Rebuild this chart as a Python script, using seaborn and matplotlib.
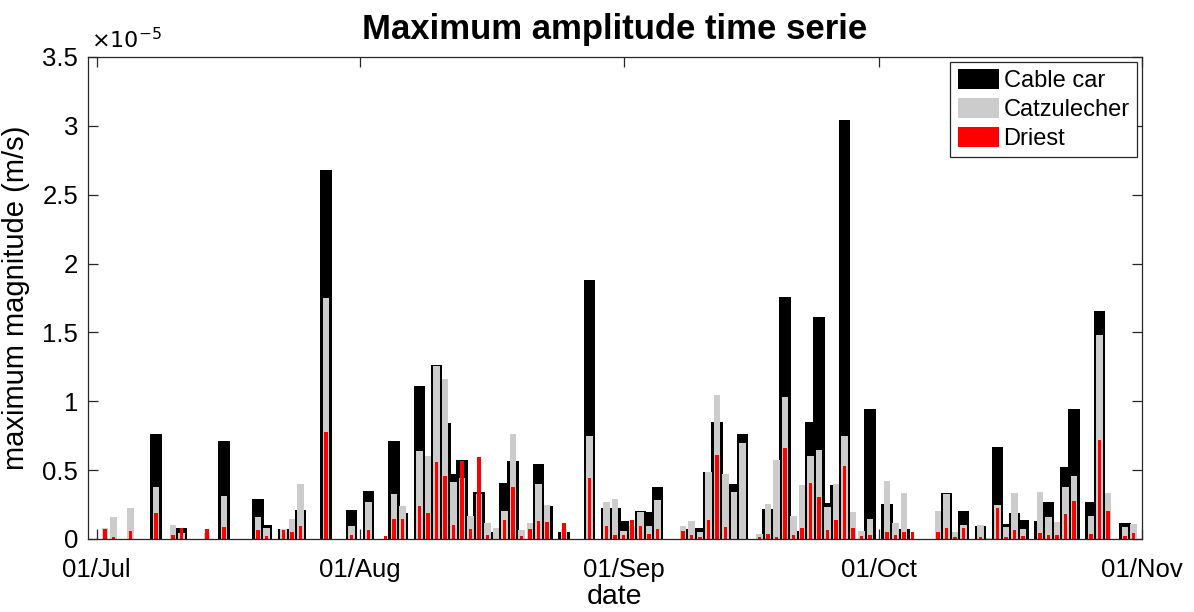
import numpy as np
import pandas as pd
import matplotlib
matplotlib.use("Agg")
import matplotlib.pyplot as plt
from matplotlib.patches import Patch
import seaborn as sns

# ---- data (values in units of 1e-5 m/s) ----
dates = ["07-02", "07-03", "07-05", "07-08", "07-10", "07-11", "07-14", "07-16", "07-20", "07-21",
         "07-23", "07-24", "07-25", "07-28", "07-31", "08-02", "08-04", "08-05", "08-06", "08-08",
         "08-09", "08-10", "08-11", "08-12", "08-13", "08-14", "08-15", "08-16", "08-17", "08-18",
         "08-19", "08-20", "08-21", "08-22", "08-23", "08-25", "08-28", "08-30", "08-31", "09-01",
         "09-02", "09-03", "09-04", "09-05", "09-08", "09-09", "09-10", "09-11", "09-12", "09-13",
         "09-14", "09-15", "09-17", "09-18", "09-19", "09-20", "09-21", "09-22", "09-23", "09-24",
         "09-25", "09-26", "09-27", "09-28", "09-29", "09-30", "10-02", "10-03", "10-04", "10-05",
         "10-08", "10-09", "10-10", "10-11", "10-13", "10-14", "10-15", "10-16", "10-17", "10-18",
         "10-20", "10-21", "10-22", "10-23", "10-24", "10-26", "10-27", "10-28", "10-30", "10-31"]

cable_car = [0, 0, 0, 0.76, 0, 0.08, 0, 0.714, 0.289, 0.10,
             0.072, 0.07, 0.209, 2.68, 0.209, 0.346, 0, 0.714, 0.19, 1.11,
             0, 1.263, 0.844, 0.469, 0.577, 0, 0.339, 0.05, 0, 0.404,
             0.57, 0, 0, 0.548, 0.238, 0.05, 1.883, 0.224, 0.224, 0.13,
             0, 0.202, 0.195, 0.375, 0, 0.072, 0.08, 0.49, 0.85, 0,
             0.40, 0.765, 0, 0.22, 0, 1.76, 0.058, 0, 0.851, 1.609,
             0.26, 0.39, 3.045, 0, 0, 0.945, 0.253, 0.072, 0.072, 0,
             0, 0.332, 0, 0.202, 0.094, 0, 0.671, 0.108, 0.187, 0.137,
             0.13, 0.267, 0, 0.52, 0.945, 0.267, 1.652, 0, 0.115, 0]

catzulecher = [0.08, 0.16, 0.226, 0.38, 0.10, 0.04, 0.04, 0.31, 0.159, 0.08,
               0.072, 0.144, 0.397, 1.75, 0.094, 0.267, 0, 0.325, 0.238, 0.642,
               0.60, 1.255, 1.16, 0.411, 0.44, 0.166, 0.325, 0.115, 0.08, 0.202,
               0.765, 0.065, 0.115, 0.40, 0.245, 0.07, 0.75, 0.267, 0.289, 0.058,
               0.094, 0.195, 0.094, 0.281, 0.094, 0.13, 0.05, 0.49, 1.046, 0.469,
               0.339, 0.70, 0.036, 0.253, 0.577, 1.03, 0.166, 0.39, 0.606, 0.649,
               0.231, 0.397, 0.75, 0.195, 0.058, 0.144, 0.42, 0.115, 0.332, 0,
               0.202, 0.325, 0.05, 0.10, 0.10, 0.01, 0.245, 0.087, 0.332, 0.072,
               0.339, 0.159, 0.123, 0.375, 0.455, 0.166, 1.479, 0.332, 0.087, 0.108]

driest = [0.074, 0.017, 0.06, 0.19, 0.03, 0.08, 0.072, 0.087, 0.065, 0.02,
          0.065, 0.05, 0.094, 0.78, 0.03, 0.067, 0.02, 0.144, 0.144, 0.238,
          0.187, 0.556, 0.455, 0.101, 0.563, 0.072, 0.592, 0.03, 0, 0.137,
          0.375, 0.02, 0.072, 0.13, 0.123, 0.115, 0.44, 0.094, 0.03, 0.03,
          0.137, 0.094, 0.036, 0.072, 0.058, 0.03, 0.015, 0.137, 0.613, 0.087,
          0, 0, 0.015, 0.036, 0.015, 0.664, 0.03, 0.08, 0.404, 0.303,
          0.065, 0.137, 0.527, 0.08, 0.02, 0.03, 0.05, 0.03, 0.05, 0.05,
          0.05, 0.08, 0.015, 0.08, 0.015, 0, 0.224, 0.015, 0.065, 0.02,
          0.044, 0.03, 0.03, 0.18, 0.274, 0.036, 0.72, 0.202, 0.02, 0.044]

series_names = ["Cable car", "Catzulecher", "Driest"]
series_colors = ["#000000", "#cccccc", "#ff0000"]
tick_dates = ["07-01", "08-01", "09-01", "10-01", "11-01"]
tick_labels = ["01/Jul", "01/Aug", "01/Sep", "01/Oct", "01/Nov"]
ytick_vals = [0, 0.5, 1, 1.5, 2, 2.5, 3, 3.5]
ytick_labels = ["0", "0.5", "1", "1.5", "2", "2.5", "3", "3.5"]

# ---- helpers ----
origin = pd.Timestamp("2019-06-30")
def day_num(mmdd):
    return np.array([(pd.Timestamp("2019-" + d) - origin).days for d in mmdd], dtype=float)

x_days = day_num(dates)
x_ticks = day_num(tick_dates)

sns.set_theme(style="white")
plt.rcParams["font.family"] = ["Liberation Sans", "DejaVu Sans"]
plt.rcParams["text.color"] = "black"
plt.rcParams["axes.labelcolor"] = "black"
plt.rcParams["xtick.color"] = "black"
plt.rcParams["ytick.color"] = "black"

fig = plt.figure(figsize=(11.94, 6.12), dpi=100)
ax = fig.add_axes([88 / 1194, 1 - 539 / 612, (1142 - 88) / 1194, (539 - 57) / 612])

widths = [1.38, 0.82, 0.47]
for vals, col, w in zip([cable_car, catzulecher, driest], series_colors, widths):
    v = np.array(vals, dtype=float)
    m = v > 0
    sns.barplot(x=x_days[m], y=v[m], native_scale=True, width=w, color=col,
                saturation=1, errorbar=None, linewidth=0, ax=ax)

ax.set_xlim(0, 124)
ax.set_ylim(0, 3.5)
ax.set_xticks(x_ticks)
ax.set_xticklabels(tick_labels)
ax.set_yticks(ytick_vals)
ax.set_yticklabels(ytick_labels)

axis_col = "#262626"
for s in ax.spines.values():
    s.set_visible(True)
    s.set_color(axis_col)
    s.set_linewidth(0.9)
ax.tick_params(axis="both", which="both", direction="in", length=7.5, width=0.9,
               color=axis_col, labelcolor="black", labelsize=18.5,
               top=True, right=True, bottom=True, left=True)
ax.tick_params(axis="x", pad=14)
ax.tick_params(axis="y", pad=7)
ax.grid(False)

ax.set_xlabel("date", fontsize=20.5, labelpad=1, color="black")
ax.set_ylabel("maximum magnitude (m/s)", fontsize=21, labelpad=9, color="black")
ax.set_title("Maximum amplitude time serie", fontsize=25, fontweight="bold", pad=13, color="black")
ax.text(0.003, 1.008, r"$\times10^{-5}$", transform=ax.transAxes, fontsize=16,
        ha="left", va="bottom", color="black")

handles = [Patch(facecolor=c, edgecolor="none", label=n) for n, c in zip(series_names, series_colors)]
leg = ax.legend(handles=handles, loc="upper right", fontsize=17, frameon=True, fancybox=False,
                edgecolor=axis_col, framealpha=1, handlelength=1.75, handleheight=0.9,
                borderpad=0.3, labelspacing=0.25, handletextpad=0.2, borderaxespad=0.22)
leg.get_frame().set_linewidth(0.9)
for t in leg.get_texts():
    t.set_color("black")

fig.savefig("out.png", dpi=100)
